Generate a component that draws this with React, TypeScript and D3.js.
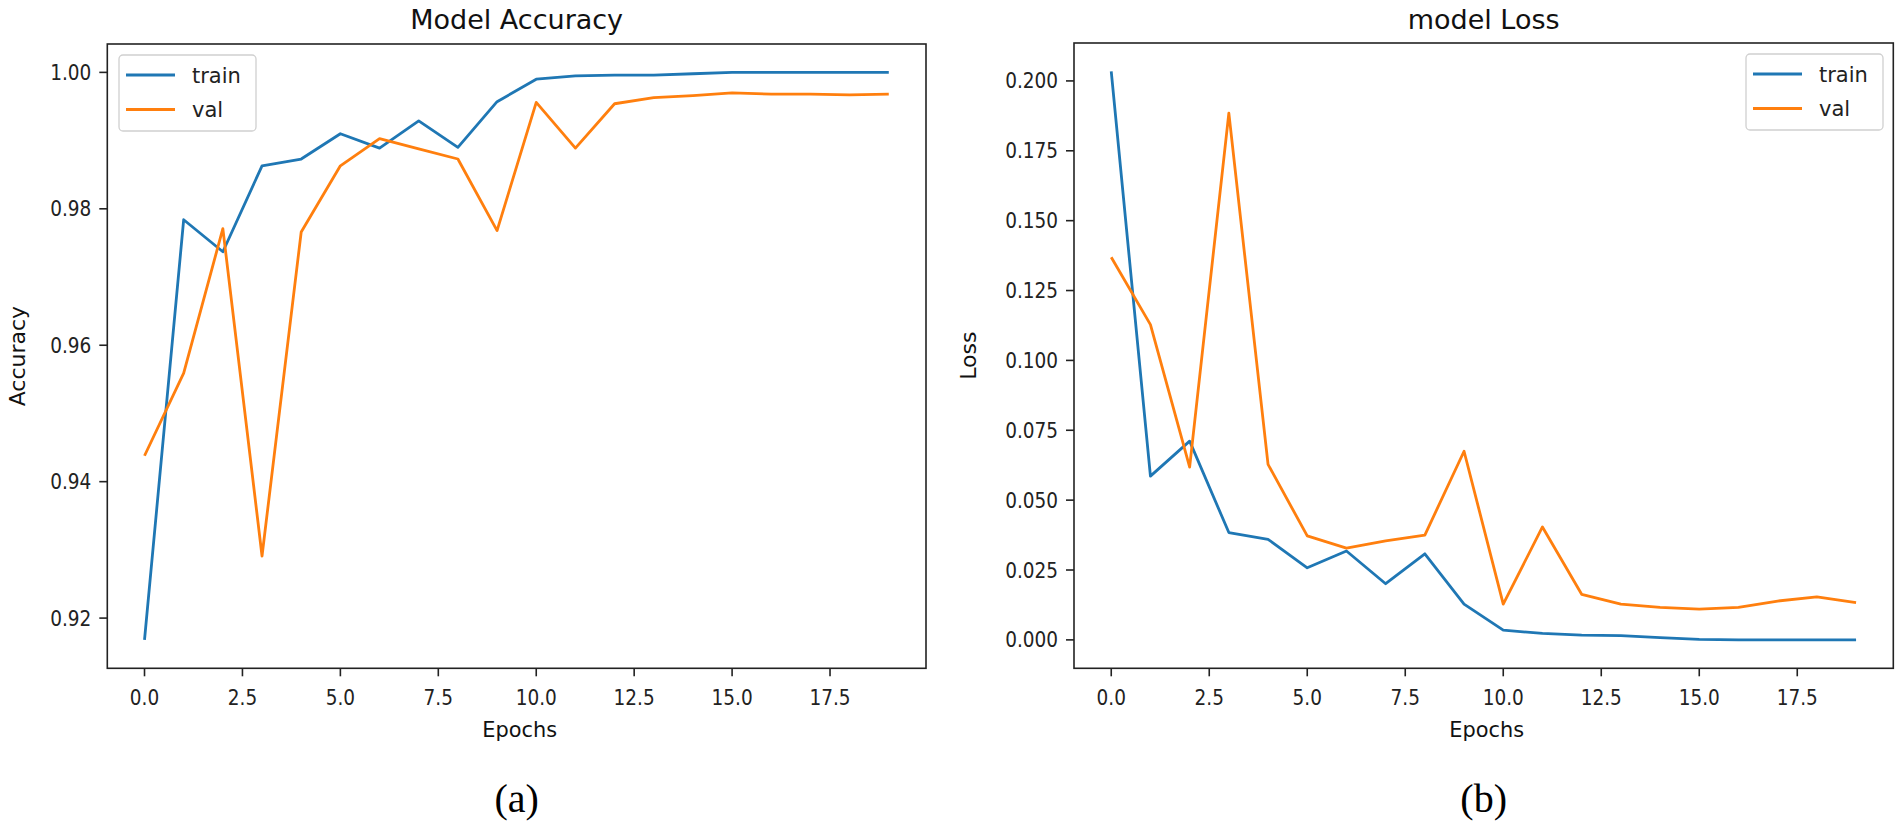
import React from "react";
import * as d3 from "d3";

// ---------- data ----------
const epochs: number[] = [0, 1, 2, 3, 4, 5, 6, 7, 8, 9, 10, 11, 12, 13, 14, 15, 16, 17, 18, 19];

const accTrain: number[] = [
  0.9168, 0.9784, 0.9737, 0.9863, 0.9873, 0.991, 0.9889, 0.9929, 0.989, 0.9957,
  0.999, 0.9995, 0.9996, 0.9996, 0.9998, 1.0, 1.0, 1.0, 1.0, 1.0,
];
const accVal: number[] = [
  0.9438, 0.9559, 0.9771, 0.9291, 0.9766, 0.9863, 0.9903, 0.9888, 0.9873, 0.9768,
  0.9956, 0.9889, 0.9954, 0.9963, 0.9966, 0.997, 0.9968, 0.9968, 0.9967, 0.9968,
];
const lossTrain: number[] = [
  0.2034, 0.0586, 0.0711, 0.0384, 0.036, 0.0258, 0.0318, 0.0201, 0.0308, 0.0128,
  0.0035, 0.0023, 0.0017, 0.0015, 0.0008, 0.0002, 0.0, 0.0, 0.0, 0.0,
];
const lossVal: number[] = [
  0.1369, 0.1128, 0.0618, 0.1885, 0.0628, 0.0372, 0.0328, 0.0354, 0.0375, 0.0675,
  0.0128, 0.0404, 0.0163, 0.0128, 0.0116, 0.011, 0.0116, 0.0139, 0.0154, 0.0133,
];

const xTicks: number[] = [0, 2.5, 5, 7.5, 10, 12.5, 15, 17.5];
const accTicks: number[] = [0.92, 0.94, 0.96, 0.98, 1.0];
const lossTicks: number[] = [0, 0.025, 0.05, 0.075, 0.1, 0.125, 0.15, 0.175, 0.2];
const seriesNames: string[] = ["train", "val"];
const seriesColors: string[] = ["#1f77b4", "#ff7f0e"];

const FONT = "'DejaVu Sans', sans-serif";
const SQ = 0.88; // horizontal squeeze of tick labels

type PanelProps = {
  left: number;
  right: number;
  top: number;
  bottom: number;
  title: string;
  yLabel: string;
  yLabelX: number;
  series: number[][];
  yTicks: number[];
  yFmt: (v: number) => string;
  legendX: number;
  caption: string;
};

function padExtent(values: number[]): [number, number] {
  const [lo, hi] = d3.extent(values) as [number, number];
  const m = (hi - lo) * 0.05;
  return [lo - m, hi + m];
}

function Panel(p: PanelProps) {
  const x = d3.scaleLinear().domain(padExtent(epochs)).range([p.left, p.right]);
  const y = d3
    .scaleLinear()
    .domain(padExtent(p.series.flat()))
    .range([p.bottom, p.top]);
  const line = d3
    .line<number>()
    .x((_, i) => x(epochs[i]))
    .y((d) => y(d));
  const cx = (p.left + p.right) / 2;
  const cy = (p.top + p.bottom) / 2;
  const xFmt = d3.format(".1f");
  const lgW = 137;
  const lgTop = p.top + 11;

  return (
    <g>
      <text x={cx} y={29} textAnchor="middle" fontFamily={FONT} fontSize={27} fill="#111">
        {p.title}
      </text>
      {p.series.map((s, k) => (
        <path
          key={k}
          d={line(s) || ""}
          fill="none"
          stroke={seriesColors[k]}
          strokeWidth={2.8}
          strokeLinejoin="round"
        />
      ))}
      <rect
        x={p.left}
        y={p.top}
        width={p.right - p.left}
        height={p.bottom - p.top}
        fill="none"
        stroke="#222"
        strokeWidth={1.6}
      />
      {xTicks.map((t) => (
        <g key={t}>
          <line x1={x(t)} x2={x(t)} y1={p.bottom} y2={p.bottom + 8} stroke="#222" strokeWidth={1.6} />
          <text
            transform={`translate(${x(t)},705) scale(${SQ},1)`}
            textAnchor="middle"
            fontFamily={FONT}
            fontSize={21}
            fill="#222"
          >
            {xFmt(t)}
          </text>
        </g>
      ))}
      {p.yTicks.map((t) => (
        <g key={t}>
          <line x1={p.left - 8} x2={p.left} y1={y(t)} y2={y(t)} stroke="#222" strokeWidth={1.6} />
          <text
            transform={`translate(${p.left - 16},${y(t)}) scale(${SQ},1)`}
            dy="0.36em"
            textAnchor="end"
            fontFamily={FONT}
            fontSize={21}
            fill="#222"
          >
            {p.yFmt(t)}
          </text>
        </g>
      ))}
      <text
        transform={`translate(${cx + 3},737) scale(0.95,1)`}
        textAnchor="middle"
        fontFamily={FONT}
        fontSize={22}
        fill="#111"
      >
        Epochs
      </text>
      <text
        transform={`translate(${p.yLabelX},${cy}) rotate(-90)`}
        textAnchor="middle"
        fontFamily={FONT}
        fontSize={22}
        fill="#111"
      >
        {p.yLabel}
      </text>
      <rect
        x={p.legendX}
        y={lgTop}
        width={lgW}
        height={76}
        rx={4}
        fill="#fff"
        fillOpacity={0.8}
        stroke="#d0d0d0"
        strokeWidth={1.3}
      />
      {seriesNames.map((n, k) => {
        const ry = lgTop + 20 + k * 34.5;
        return (
          <g key={n}>
            <line
              x1={p.legendX + 7}
              x2={p.legendX + 56}
              y1={ry}
              y2={ry}
              stroke={seriesColors[k]}
              strokeWidth={3}
            />
            <text x={p.legendX + 73} y={ry} dy="0.36em" fontFamily={FONT} fontSize={21} fill="#222">
              {n}
            </text>
          </g>
        );
      })}
      <text
        x={cx}
        y={812}
        textAnchor="middle"
        fontFamily="'Liberation Serif', 'Times New Roman', serif"
        fontSize={40}
        fill="#000"
      >
        {p.caption}
      </text>
    </g>
  );
}

export default function App() {
  return (
    <svg
      width={1900}
      height={825}
      style={{ position: "absolute", left: 0, top: 0, background: "#fff" }}
    >
      <rect x={0} y={0} width={1900} height={825} fill="#fff" />
      <Panel
        left={107.3}
        right={926}
        top={44}
        bottom={668.3}
        title="Model Accuracy"
        yLabel="Accuracy"
        yLabelX={25}
        series={[accTrain, accVal]}
        yTicks={accTicks}
        yFmt={d3.format(".2f")}
        legendX={119}
        caption="(a)"
      />
      <Panel
        left={1074}
        right={1893.3}
        top={43}
        bottom={668.3}
        title="model Loss"
        yLabel="Loss"
        yLabelX={976}
        series={[lossTrain, lossVal]}
        yTicks={lossTicks}
        yFmt={d3.format(".3f")}
        legendX={1746}
        caption="(b)"
      />
    </svg>
  );
}
